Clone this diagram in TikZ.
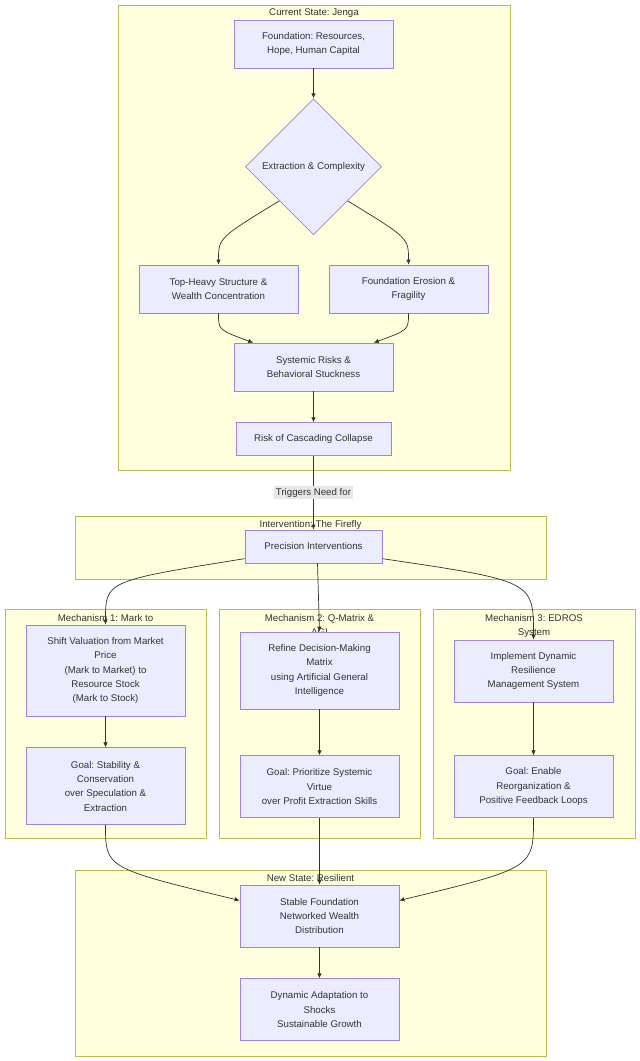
\documentclass[tikz,border=0pt]{standalone}
\usepackage{fontspec}
\setmainfont{Liberation Sans}
\usepackage{xcolor}
\usepackage{tikz}
\usetikzlibrary{arrows.meta,positioning,shapes.geometric}
\frenchspacing

\definecolor{nodefill}{HTML}{ECECFF}
\definecolor{nodeline}{HTML}{9F84DD}
\definecolor{clusterfill}{HTML}{FFFFDE}
\definecolor{clusterline}{HTML}{BBBB55}
\definecolor{ink}{HTML}{333333}
\definecolor{labelfill}{HTML}{E8E8E8}

\begin{document}
\begin{tikzpicture}[
  x=1pt,y=-1pt,
  font=\fontsize{9.7}{14.4}\selectfont,
  box/.style={draw=nodeline,fill=nodefill,line width=0.7pt,minimum width=159pt,minimum height=48pt,align=center,text=ink,inner sep=2pt},
  decision/.style={diamond,aspect=1,draw=nodeline,fill=nodefill,line width=0.7pt,minimum size=136pt,inner sep=0pt,align=center,text=ink},
  cluster/.style={draw=clusterline,fill=clusterfill,line width=0.7pt,anchor=north west,inner sep=0pt},
  ctitle/.style={text=ink,anchor=north,align=center,inner sep=1pt},
  lbl/.style={fill=labelfill,text=ink,inner sep=2pt},
  arr/.style={-{Latex[length=5pt,width=4.5pt]},draw=ink,line width=0.7pt}
]
\useasboundingbox (0,0) rectangle (640,1061);

% subgraphs
\node[cluster,minimum width=392pt,minimum height=465pt] (jenga) at (118,5) {};
\node[ctitle] at (314,8) {Current State: Jenga};
\node[cluster,minimum width=471pt,minimum height=63pt] (firefly) at (75,516) {};
\node[ctitle] at (310.5,519) {Intervention: The Firefly};
\node[cluster,minimum width=201pt,minimum height=229pt] (mechA) at (5,609) {};
\node[ctitle] at (105.5,613) {Mechanism 1: Mark to};
\node[cluster,minimum width=201pt,minimum height=229pt] (mechB) at (219,609) {};
\node[ctitle] at (319.5,613) {Mechanism 2: Q-Matrix \&\\AGI};
\node[cluster,minimum width=202pt,minimum height=229pt] (mechC) at (433,609) {};
\node[ctitle] at (534,613) {Mechanism 3: EDROS\\System};
\node[cluster,minimum width=471pt,minimum height=186pt] (resilient) at (75,870) {};
\node[ctitle] at (310.5,873) {New State: Resilient};

% current state
\node[box] (found) at (313.5,44) {Foundation: Resources,\\Hope, Human Capital};
\node[decision,below=30pt of found] (dia) {Extraction \& Complexity};
\node[box] (heavy) at (218.5,289) {Top-Heavy Structure \&\\Wealth Concentration};
\node[box] (erosion) at (408.5,289) {Foundation Erosion \&\\Fragility};
\node[box] (sys) at (313.5,367) {Systemic Risks \&\\Behavioral Stuckness};
\node[box,minimum width=155pt,minimum height=33pt,below=31pt of sys] (risk) {Risk of Cascading Collapse};

% intervention
\node[box,minimum width=137pt,minimum height=33pt] (prec) at (313.5,546.5) {Precision Interventions};

% mechanisms
\node[box,minimum height=91pt] (m1a) at (105.5,670.5) {Shift Valuation from Market\\Price\\(Mark to Market) to\\Resource Stock\\(Mark to Stock)};
\node[box,minimum height=77pt,below=31pt of m1a] (m1b) {Goal: Stability \&\\Conservation\\over Speculation \&\\Extraction};
\node[box,minimum height=77pt] (m2a) at (319.5,670.5) {Refine Decision-Making\\Matrix\\using Artificial General\\Intelligence};
\node[box,minimum height=62pt,below=46pt of m2a] (m2b) {Goal: Prioritize Systemic\\Virtue\\over Profit Extraction Skills};
\node[box,minimum height=62pt] (m3a) at (533.5,671) {Implement Dynamic\\Resilience\\Management System};
\node[box,minimum height=62pt,below=53pt of m3a] (m3b) {Goal: Enable\\Reorganization \&\\Positive Feedback Loops};

% new state
\node[box,minimum height=62pt] (stable) at (319.5,916) {Stable Foundation\\Networked Wealth\\Distribution};
\node[box,minimum height=62pt,below=31pt of stable] (adapt) {Dynamic Adaptation to\\Shocks\\Sustainable Growth};

\draw[arr] (found) -- (dia);
\draw[arr] (dia.south west) .. controls (218.5,238) .. (heavy.north);
\draw[arr] (dia.south east) .. controls (408.5,238) .. (erosion.north);
\draw[arr] (heavy.south) .. controls (218.5,330) .. (sys.158);
\draw[arr] (erosion.south) .. controls (408.5,330) .. (sys.22);
\draw[arr] (sys) -- (risk);
\draw[arr] (risk) -- node[lbl] {Triggers Need for} (prec);
\draw[arr] (prec.190) .. controls (105.5,581) .. (m1a.north);
\draw[arr] ([xshift=4pt]prec.south) -- (m2a.north);
\draw[arr] (prec.-10) .. controls (533.5,581) .. (m3a.north);
\draw[arr] (m1a) -- (m1b);
\draw[arr] (m2a) -- (m2b);
\draw[arr] (m3a) -- (m3b);
\draw[arr] (m1b.south) .. controls (105.5,868) .. (stable.169);
\draw[arr] (m2b) -- (stable);
\draw[arr] (m3b.south) .. controls (533.5,868) .. (stable.11);
\draw[arr] (stable) -- (adapt);
\end{tikzpicture}
\end{document}
